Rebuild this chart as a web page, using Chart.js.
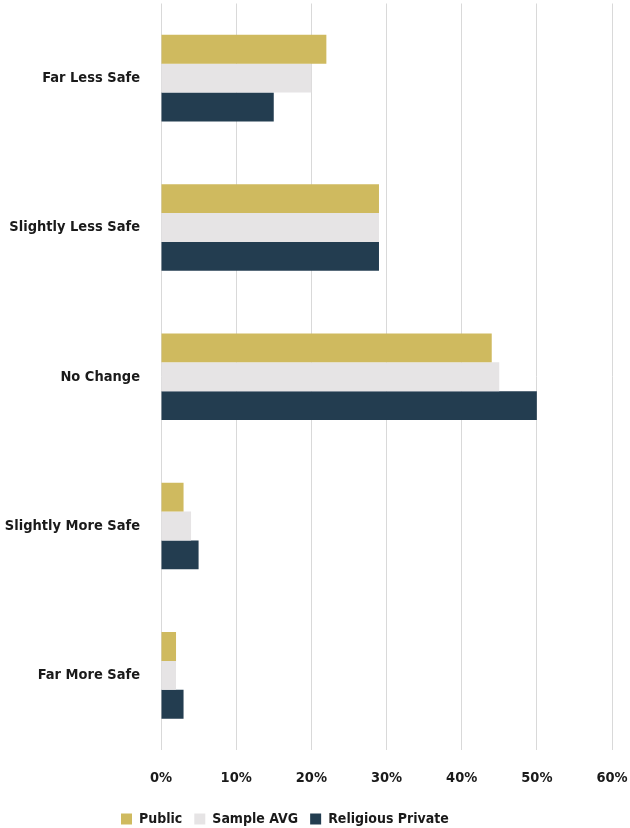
<!DOCTYPE html>
<html>
<head>
<meta charset="utf-8">
<script src="https://cdn.jsdelivr.net/npm/chart.js@4"></script>
<style>
  html, body { margin: 0; padding: 0; background: #ffffff; }
  #wrap { width: 630px; height: 828px; position: relative; }
</style>
</head>
<body>
<div id="wrap"><canvas id="safetyChart"></canvas></div>
<script>
const categories = ['Far Less Safe', 'Slightly Less Safe', 'No Change', 'Slightly More Safe', 'Far More Safe'];
const seriesNames = ['Public', 'Sample AVG', 'Religious Private'];
const publicVals = [22, 29, 44, 3, 2];
const sampleVals = [20, 29, 45, 4, 2];
const religiousVals = [15, 29, 50, 5, 3];
const xTicks = [0, 10, 20, 30, 40, 50, 60];
const barColors = ['#cfba5f', '#e6e4e5', '#233d50'];

const fontFamily = '"Liberation Sans Narrow", "DejaVu Sans Condensed", Roboto, sans-serif';
const labelFont = { family: fontFamily, size: 14.5, weight: 'bold' };

// legend in the reference sits left of centre, so nudge its start
const legendShift = {
    id: 'legendShift',
    afterLayout(chart) { chart.legend.left = 109; }
};

const ctx = document.getElementById('safetyChart').getContext('2d');
new Chart(ctx, {
    type: 'bar',
    data: {
        labels: categories,
        datasets: [publicVals, sampleVals, religiousVals].map((vals, i) => ({
            label: seriesNames[i],
            data: vals,
            backgroundColor: barColors[i],
            borderWidth: 0,
            categoryPercentage: 0.58,
            barPercentage: 1.0
        }))
    },
    plugins: [legendShift],
    options: {
        indexAxis: 'y',
        responsive: true,
        maintainAspectRatio: false,
        animation: false,
        layout: { padding: { top: 3.5, right: 18, left: 0, bottom: -8 } },
        plugins: {
            tooltip: { enabled: false },
            legend: {
                position: 'bottom',
                align: 'start',
                labels: {
                    boxWidth: 11, boxHeight: 11, padding: 12,
                    color: '#1a1a1a',
                    font: { family: fontFamily, size: 14, weight: 'bold' }
                }
            }
        },
        scales: {
            x: {
                min: 0, max: 60,
                afterBuildTicks: s => { s.ticks = xTicks.map(v => ({ value: v })); },
                afterFit: s => { s.paddingLeft = 0; s.paddingRight = 0; s.height = 50; },
                grid: { color: '#d9d9d9', lineWidth: 1, drawTicks: true, tickLength: 20, tickColor: 'rgba(0,0,0,0)' },
                border: { display: false },
                ticks: {
                    padding: 0,
                    color: '#1a1a1a',
                    font: labelFont,
                    callback: v => v + '%'
                }
            },
            y: {
                afterFit: s => { s.width = 161; s.paddingTop = 0; s.paddingBottom = 0; },
                grid: { display: false, drawTicks: true, tickLength: 21 },
                border: { display: false },
                ticks: {
                    padding: 0,
                    color: '#1a1a1a',
                    font: labelFont
                }
            }
        }
    }
});
</script>
</body>
</html>
